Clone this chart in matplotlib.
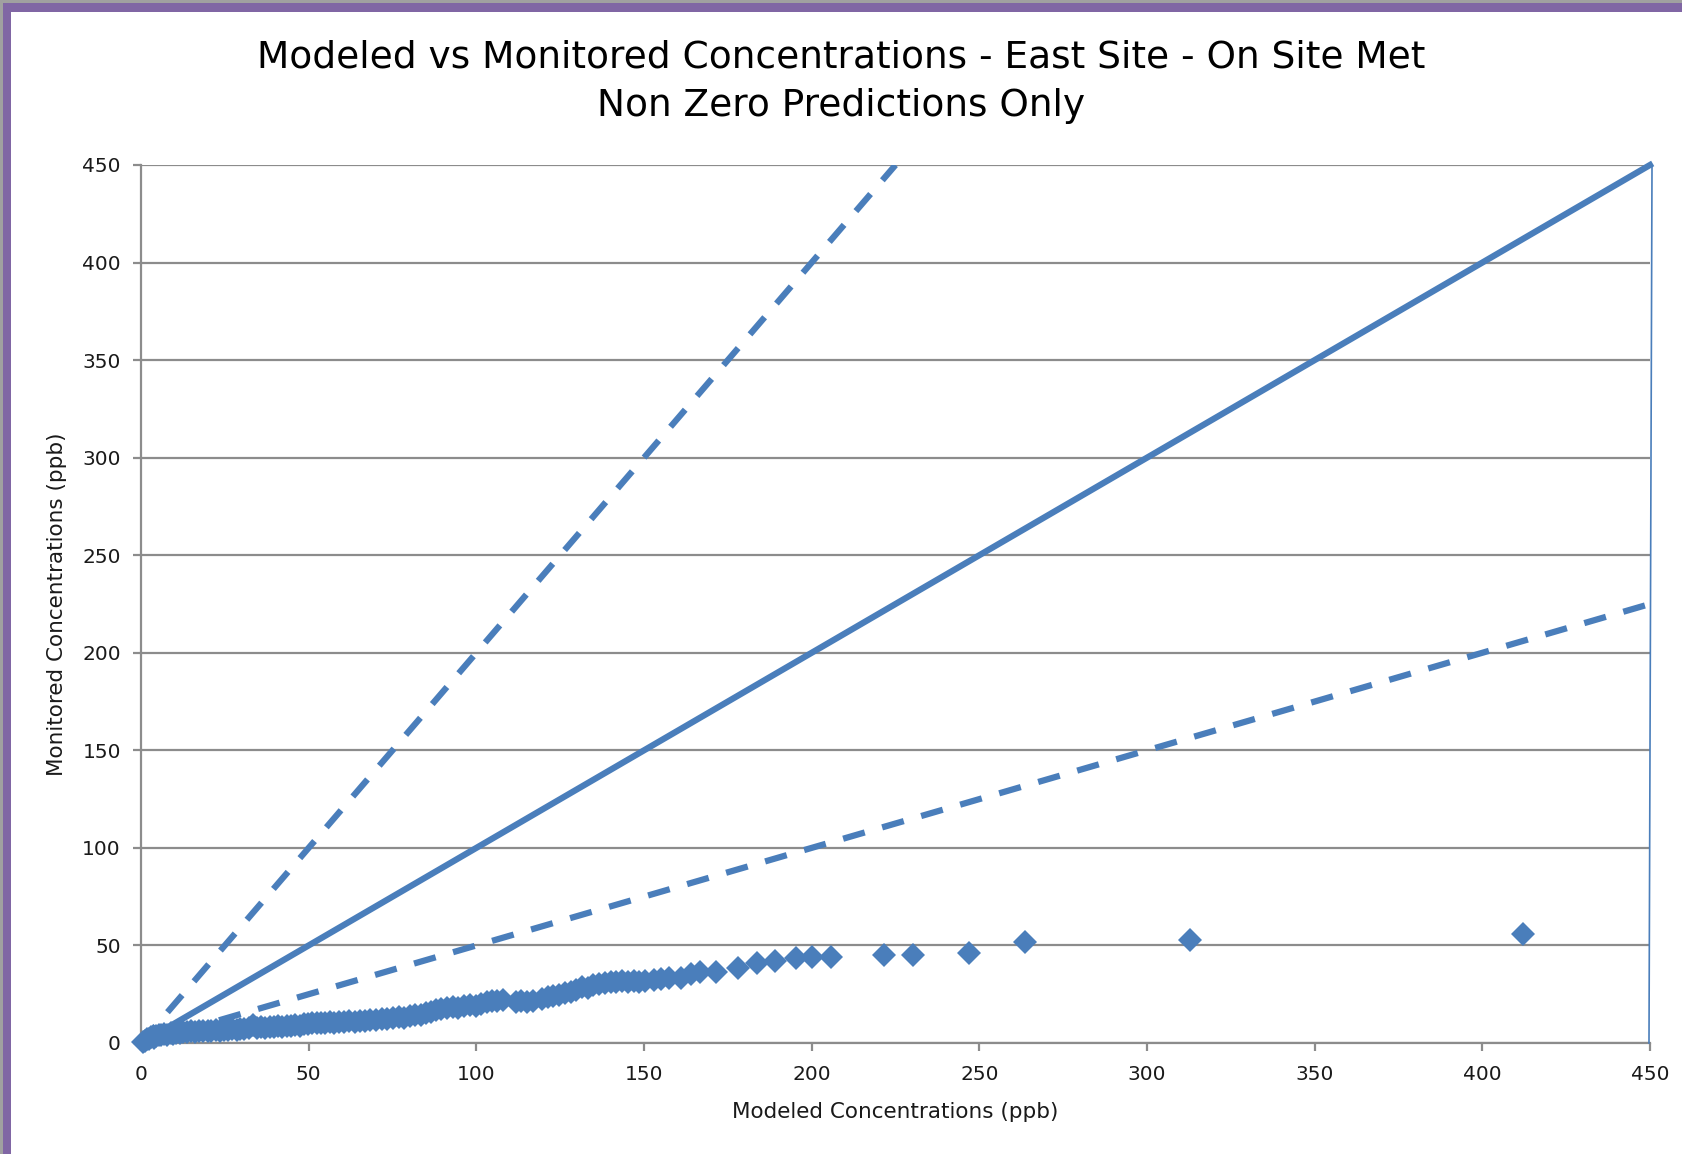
import matplotlib
matplotlib.use('Agg')
import matplotlib.pyplot as plt
from matplotlib.patches import Rectangle

# 散布データ
modeled = [0.5, 1.2, 1.8, 2.4, 3.1, 3.8, 4.5, 5.3, 6.1, 7.0, 7.9, 8.8, 9.6, 10.4,
           11.5, 12.6, 13.8, 15.0, 16.1, 17.4, 18.6, 19.9, 21.0, 22.3, 23.5, 24.8,
           26.0, 27.2, 28.5, 29.6, 30.8, 32.1, 33.4, 34.6, 35.9, 37.1, 38.4, 39.6,
           40.9, 42.1, 43.5, 44.8, 46.0, 47.3, 48.5, 49.8, 51.1, 52.4, 53.6, 55.0,
           56.3, 57.7, 59.1, 60.6, 62.0, 63.7, 65.2, 66.9, 68.4, 70.0, 71.8, 73.4,
           75.1, 76.9, 78.4, 80.1, 81.8, 83.4, 85.0, 86.5, 88.1, 89.6, 91.3, 92.9,
           94.6, 96.4, 98.0, 99.8, 101.5, 103.1, 104.8, 106.3, 108.0, 111.7, 113.4,
           115.2, 117.0, 119.6, 121.3, 123.0, 124.6, 126.4, 128.1, 129.8, 131.4,
           133.2, 134.9, 136.7, 138.3, 140.1, 141.7, 143.5, 145.2, 147.0, 148.6,
           150.3, 153.0, 155.2, 157.5, 161.0, 163.9, 166.7, 171.5, 178.1, 183.8,
           189.0, 195.2, 200.0, 205.9, 221.5, 230.2, 246.8, 263.7, 312.7, 412.0]
monitored = [0.6, 1.1, 1.9, 2.3, 3.0, 2.7, 3.6, 4.0, 3.9, 4.6, 4.2, 5.0, 4.8, 5.3,
             5.1, 5.8, 5.4, 6.0, 5.6, 6.1, 5.9, 6.4, 6.0, 6.6, 6.3, 6.9, 6.5, 7.1,
             6.8, 7.4, 7.0, 7.6, 9.0, 7.7, 8.2, 7.9, 8.4, 8.1, 8.6, 8.3, 8.9, 8.5,
             9.3, 8.8, 9.6, 9.9, 10.3, 10.0, 10.5, 10.2, 10.7, 10.4, 10.9, 10.6,
             11.2, 11.0, 11.5, 11.3, 12.0, 11.8, 12.4, 12.2, 12.9, 13.3, 13.0, 13.8,
             14.4, 14.1, 15.2, 16.0, 16.8, 17.6, 17.9, 18.3, 18.1, 18.9, 19.4, 19.2,
             20.1, 21.0, 21.6, 21.3, 21.9, 21.2, 21.5, 21.0, 21.4, 22.8, 23.7, 24.2,
             24.6, 25.5, 26.3, 27.4, 28.9, 28.4, 29.7, 30.3, 31.0, 31.4, 31.1, 31.9,
             31.3, 31.8, 31.5, 32.0, 32.3, 32.6, 33.1, 33.5, 35.2, 36.4, 36.4, 38.4,
             41.1, 41.8, 43.5, 44.2, 44.2, 45.2, 45.2, 45.9, 52.0, 53.0, 56.1]

# 基準線（1:1、2倍、1/2倍）の端点
line_1to1_x = [0, 450]
line_1to1_y = [0, 450]
line_2x_x = [0, 225]
line_2x_y = [0, 450]
line_half_x = [0, 450]
line_half_y = [0, 225]
edge_x = [449.7, 450.6]
edge_y = [0, 450]

title = 'Modeled vs Monitored Concentrations - East Site - On Site Met\nNon Zero Predictions Only'
xlabel = 'Modeled Concentrations (ppb)'
ylabel = 'Monitored Concentrations (ppb)'
ticks = [0, 50, 100, 150, 200, 250, 300, 350, 400, 450]

blue = '#4A7EBB'
grid_c = '#8C8C8C'
text_c = '#1A1A1A'

plt.rcParams['font.family'] = 'DejaVu Sans'

fig = plt.figure(figsize=(16.82, 11.54), dpi=100)
fig.patch.set_facecolor('white')

# 左と上の枠（紫）
fig.patches.append(Rectangle((0, 0), 11 / 1682, 1, transform=fig.transFigure,
                             facecolor='#8066A4', edgecolor='none', zorder=0))
fig.patches.append(Rectangle((0, 1 - 12 / 1154), 1, 12 / 1154, transform=fig.transFigure,
                             facecolor='#8066A4', edgecolor='none', zorder=0))
fig.patches.append(Rectangle((0, 1 - 3 / 1154), 1, 3 / 1154, transform=fig.transFigure,
                             facecolor='#A0A0A0', edgecolor='none', zorder=1))
fig.patches.append(Rectangle((0, 0), 3 / 1682, 1, transform=fig.transFigure,
                             facecolor='#A0A0A0', edgecolor='none', zorder=1))

ax = fig.add_axes([141 / 1682, 1 - 1043 / 1154, (1650 - 141) / 1682, (1043 - 165) / 1154])
ax.set_xlim(0, 450)
ax.set_ylim(0, 450)

ax.set_yticks(ticks)
ax.set_xticks(ticks)
ax.yaxis.grid(True, color=grid_c, lw=1.6)
ax.set_axisbelow(True)
for s in ['top', 'right']:
    ax.spines[s].set_visible(False)
for s in ['left', 'bottom']:
    ax.spines[s].set_color(grid_c)
    ax.spines[s].set_linewidth(1.6)
ax.tick_params(axis='both', direction='out', length=5.5, width=1.6, color=grid_c,
               labelsize=14.5, labelcolor=text_c)
ax.tick_params(axis='y', pad=9)
ax.tick_params(axis='x', pad=10)

ax.plot(line_2x_x, line_2x_y, color=blue, lw=4.5, dashes=(3.6, 2.9), zorder=3)
ax.plot(line_1to1_x, line_1to1_y, color=blue, lw=4.5, zorder=3, clip_on=False)
ax.plot(line_half_x, line_half_y, color=blue, lw=4.5, dashes=(3.6, 2.9), zorder=3)
ax.plot(edge_x, edge_y, color=blue, lw=1.2, zorder=3, clip_on=False)

ax.plot(modeled, monitored, 'D', color=blue, markersize=12.5, markeredgewidth=0,
        zorder=4, clip_on=False)

ax.set_xlabel(xlabel, fontsize=15.5, color=text_c, labelpad=13)
ax.set_ylabel(ylabel, fontsize=15.5, color=text_c, labelpad=11)

fig.text(0.5, 1 - 82 / 1154, title, ha='center', va='center', fontsize=27,
         color='black', linespacing=1.45)

fig.savefig('out.png', dpi=100, facecolor='white')
